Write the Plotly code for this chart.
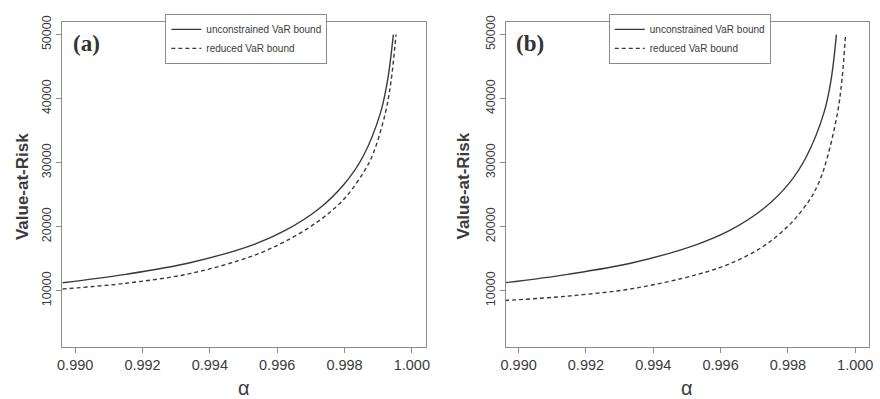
import plotly.graph_objects as go

# ---- data ----
alpha_a_unc = [0.98962, 0.99150, 0.99344, 0.99530, 0.99624, 0.99723, 0.99800, 0.99855, 0.99907, 0.99928, 0.99945]
var_a_unc = [11230, 12550, 14400, 17200, 19400, 22750, 26700, 30950, 37800, 42900, 50000]

alpha_a_red = [0.98962, 0.99150, 0.99344, 0.99528, 0.99624, 0.99723, 0.99800, 0.99859, 0.99885, 0.99922, 0.99938, 0.99953]
var_a_red = [10260, 11150, 12700, 15450, 17700, 20870, 24400, 28700, 31380, 37900, 42660, 50000]

alpha_b_unc = [0.98959, 0.99146, 0.99342, 0.99529, 0.99627, 0.99726, 0.99804, 0.99855, 0.99907, 0.99928, 0.99944]
var_b_unc = [11230, 12550, 14400, 17200, 19400, 22750, 26800, 30950, 37800, 42900, 50000]

alpha_b_red = [0.98959, 0.99146, 0.99342, 0.99529, 0.99627, 0.99726, 0.99804, 0.99862, 0.99892, 0.99918, 0.99948, 0.99961, 0.99971]
var_b_red = [8460, 9150, 10350, 12500, 14200, 16900, 20260, 24000, 26900, 31000, 38000, 43200, 50000]

x_ticks = [0.990, 0.992, 0.994, 0.996, 0.998, 1.000]
x_ticklabels = ["0.990", "0.992", "0.994", "0.996", "0.998", "1.000"]
y_ticks = [10000, 20000, 30000, 40000, 50000]
y_ticklabels = ["10000", "20000", "30000", "40000", "50000"]
panel_labels = ["(a)", "(b)"]
legend_names = ["unconstrained VaR bound", "reduced VaR bound"]

W, H = 880, 399
LINE = "#3a3a3a"
FRAME = "#8a8a8a"
TXT = "#3c3c3c"

fig = go.Figure()

panels = [
    (alpha_a_unc, var_a_unc, alpha_a_red, var_a_red, "x", "y", "legend"),
    (alpha_b_unc, var_b_unc, alpha_b_red, var_b_red, "x2", "y2", "legend2"),
]
for au, vu, ar, vr, xa, ya, lg in panels:
    fig.add_trace(go.Scatter(x=au, y=vu, mode="lines", name=legend_names[0],
                             line=dict(color=LINE, width=1.4, shape="spline", smoothing=1.0),
                             xaxis=xa, yaxis=ya, legend=lg, hoverinfo="skip"))
    fig.add_trace(go.Scatter(x=ar, y=vr, mode="lines", name=legend_names[1],
                             line=dict(color=LINE, width=1.4, dash="4px,3px", shape="spline", smoothing=1.0),
                             xaxis=xa, yaxis=ya, legend=lg, hoverinfo="skip"))

ydom = [1 - 346 / H, 1 - 16 / H]
xdoms = [[58 / W, 425 / W], [506 / W, 873 / W]]

common_x = dict(range=[0.98962, 1.00041], tickmode="array", tickvals=x_ticks, ticktext=x_ticklabels,
                showline=True, linecolor=FRAME, linewidth=1.3, mirror=True,
                ticks="outside", ticklen=5, tickcolor=FRAME, tickwidth=1.2,
                showgrid=False, zeroline=False,
                tickfont=dict(family="Arial, Liberation Sans", size=14.5, color=TXT))
common_y = dict(range=[1230, 52000], tickmode="array", tickvals=y_ticks, ticktext=y_ticklabels,
                showline=True, linecolor=FRAME, linewidth=1.3, mirror=True,
                ticks="outside", ticklen=5, tickcolor=FRAME, tickwidth=1.2, tickangle=-90,
                showgrid=False, zeroline=False,
                tickfont=dict(family="Arial, Liberation Sans", size=12.5, color=TXT))

fig.update_layout(
    width=W, height=H, margin=dict(l=0, r=0, t=0, b=0),
    paper_bgcolor="white", plot_bgcolor="white",
    xaxis=dict(domain=xdoms[0], anchor="y", **common_x),
    yaxis=dict(domain=ydom, anchor="x", **common_y),
    xaxis2=dict(domain=xdoms[1], anchor="y2", **common_x),
    yaxis2=dict(domain=ydom, anchor="x2", **common_y),
)

leg_common = dict(xanchor="left", yanchor="top", y=1 - 8 / H,
                  bgcolor="white", bordercolor=FRAME, borderwidth=1,
                  font=dict(family="Arial, Liberation Sans", size=10, color=TXT),
                  itemwidth=30, tracegroupgap=0)
fig.update_layout(legend=dict(x=162 / W, **leg_common),
                  legend2=dict(x=610 / W, **leg_common))

# axis titles and panel labels
for i, dom in enumerate(xdoms):
    xc = (dom[0] + dom[1]) / 2
    fig.add_annotation(x=xc, y=1 - 388 / H, xref="paper", yref="paper", text="α", showarrow=False,
                       font=dict(family="Arial, Liberation Sans", size=20, color=TXT),
                       xanchor="center", yanchor="middle")
    fig.add_annotation(x=(17 if i == 0 else 463) / W, y=1 - 183 / H, xref="paper", yref="paper",
                       text="<b>Value-at-Risk</b>", textangle=-90, showarrow=False,
                       font=dict(family="Arial, Liberation Sans", size=17, color=TXT),
                       xanchor="center", yanchor="middle")
    fig.add_annotation(x=dom[0] + 24 / W, y=1 - 38 / H, xref="paper", yref="paper",
                       text="<b>" + panel_labels[i] + "</b>", showarrow=False,
                       font=dict(family="Liberation Serif, Times New Roman", size=23, color="#333333"),
                       xanchor="center", yanchor="middle")

fig.write_html("out.html")
